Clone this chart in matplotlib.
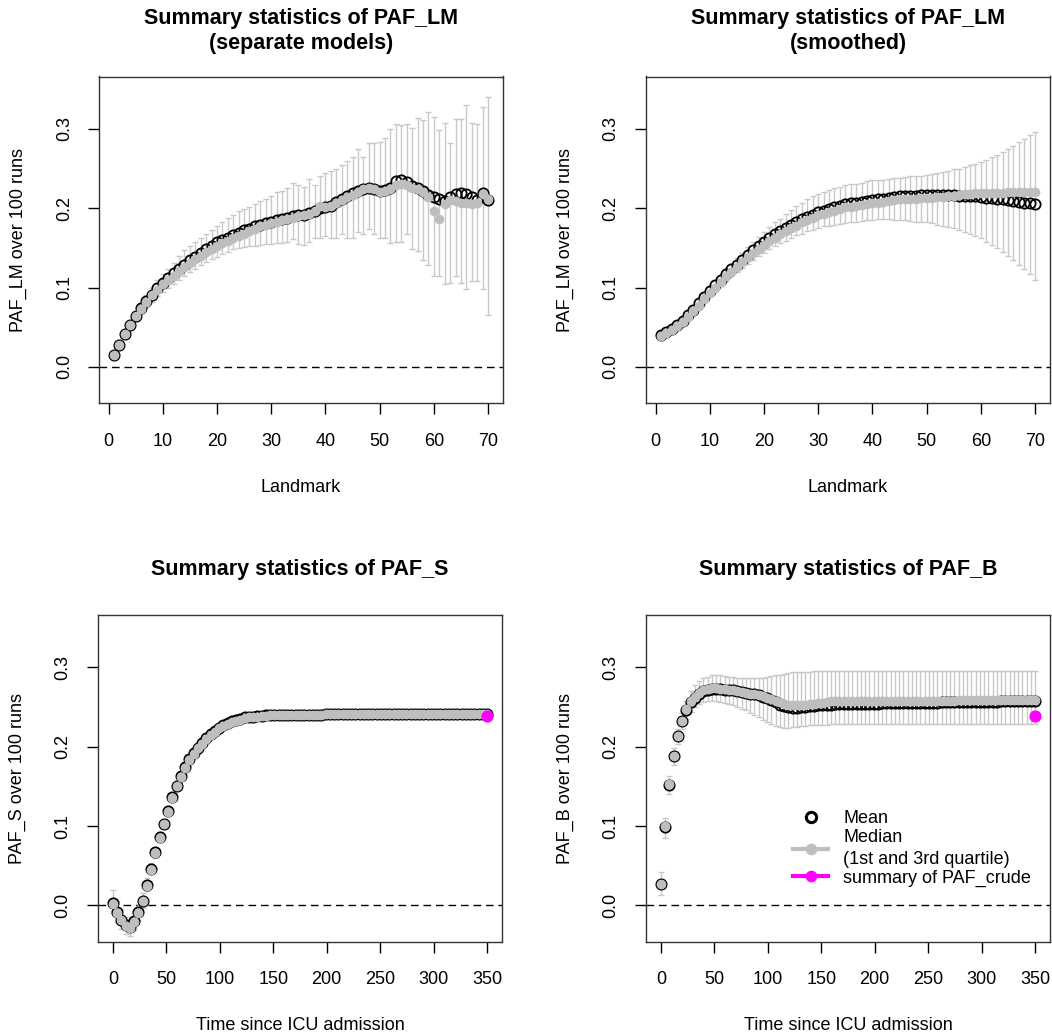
import numpy as np
import matplotlib.pyplot as plt
from matplotlib.lines import Line2D

plt.rcParams['font.family'] = ['Liberation Sans', 'DejaVu Sans']

# x-as boven: landmarks, onder: tijd sinds ICU opname
landmark = np.arange(1, 71)
tijd = np.linspace(0, 350, 89)

# PAF_LM, aparte modellen
lm_sep_mean = [0.015, 0.028, 0.041, 0.053, 0.064, 0.074, 0.083, 0.091, 0.099, 0.106,
               0.112, 0.118, 0.124, 0.129, 0.135, 0.139, 0.144, 0.149, 0.153, 0.157,
               0.160, 0.163, 0.166, 0.169, 0.172, 0.174, 0.177, 0.179, 0.181, 0.183,
               0.185, 0.187, 0.188, 0.190, 0.191, 0.192, 0.194, 0.196, 0.200, 0.201,
               0.203, 0.208, 0.212, 0.216, 0.219, 0.222, 0.224, 0.225, 0.224, 0.222,
               0.223, 0.226, 0.234, 0.236, 0.233, 0.228, 0.226, 0.222, 0.217, 0.214,
               0.211, 0.209, 0.214, 0.218, 0.219, 0.218, 0.214, 0.210, 0.219, 0.210]
lm_sep_median = [0.015, 0.028, 0.041, 0.053, 0.064, 0.073, 0.082, 0.090, 0.097, 0.104,
                 0.110, 0.115, 0.121, 0.126, 0.131, 0.136, 0.140, 0.145, 0.149, 0.153,
                 0.156, 0.159, 0.162, 0.165, 0.168, 0.171, 0.174, 0.177, 0.179, 0.181,
                 0.183, 0.185, 0.187, 0.188, 0.190, 0.191, 0.193, 0.197, 0.203, 0.201,
                 0.203, 0.206, 0.210, 0.214, 0.217, 0.221, 0.224, 0.226, 0.224, 0.221,
                 0.222, 0.224, 0.229, 0.231, 0.229, 0.225, 0.224, 0.221, 0.214, 0.197,
                 0.187, 0.205, 0.210, 0.209, 0.207, 0.206, 0.205, 0.206, 0.218, 0.212]
lm_sep_q3 = [0.018, 0.031, 0.045, 0.057, 0.069, 0.080, 0.090, 0.100, 0.109, 0.117,
             0.124, 0.131, 0.140, 0.147, 0.153, 0.158, 0.163, 0.168, 0.173, 0.178,
             0.183, 0.188, 0.192, 0.196, 0.199, 0.202, 0.205, 0.209, 0.211, 0.216,
             0.220, 0.222, 0.226, 0.232, 0.229, 0.227, 0.237, 0.229, 0.240, 0.244,
             0.247, 0.250, 0.254, 0.259, 0.265, 0.274, 0.265, 0.282, 0.282, 0.284,
             0.288, 0.300, 0.306, 0.305, 0.306, 0.301, 0.314, 0.311, 0.321, 0.315,
             0.299, 0.308, 0.282, 0.312, 0.312, 0.330, 0.307, 0.306, 0.327, 0.340]
lm_sep_q1 = [0.011, 0.024, 0.036, 0.048, 0.058, 0.067, 0.075, 0.082, 0.089, 0.095,
             0.100, 0.105, 0.110, 0.115, 0.119, 0.124, 0.128, 0.132, 0.136, 0.139,
             0.142, 0.145, 0.148, 0.150, 0.151, 0.152, 0.153, 0.154, 0.155, 0.155,
             0.156, 0.156, 0.157, 0.161, 0.155, 0.154, 0.157, 0.163, 0.162, 0.165,
             0.162, 0.162, 0.167, 0.162, 0.162, 0.170, 0.168, 0.174, 0.168, 0.163,
             0.162, 0.156, 0.157, 0.157, 0.168, 0.148, 0.146, 0.135, 0.129, 0.114,
             0.114, 0.104, 0.106, 0.114, 0.106, 0.098, 0.108, 0.108, 0.098, 0.066]

# PAF_LM, gladgestreken
lm_smo_mean = [0.040, 0.044, 0.048, 0.053, 0.058, 0.065, 0.072, 0.080, 0.088, 0.096,
               0.103, 0.110, 0.117, 0.123, 0.129, 0.135, 0.141, 0.147, 0.153, 0.158,
               0.163, 0.167, 0.171, 0.175, 0.179, 0.182, 0.186, 0.189, 0.192, 0.195,
               0.197, 0.199, 0.201, 0.203, 0.205, 0.206, 0.207, 0.208, 0.209, 0.210,
               0.211, 0.212, 0.213, 0.214, 0.215, 0.215, 0.216, 0.216, 0.217, 0.217,
               0.217, 0.217, 0.217, 0.217, 0.217, 0.216, 0.216, 0.215, 0.215, 0.214,
               0.213, 0.213, 0.212, 0.211, 0.210, 0.209, 0.208, 0.207, 0.206, 0.205]
lm_smo_median = [0.039, 0.043, 0.047, 0.051, 0.056, 0.063, 0.070, 0.077, 0.085, 0.093,
                 0.100, 0.107, 0.114, 0.120, 0.126, 0.132, 0.138, 0.144, 0.149, 0.154,
                 0.159, 0.163, 0.167, 0.171, 0.175, 0.178, 0.182, 0.185, 0.188, 0.191,
                 0.193, 0.195, 0.197, 0.199, 0.201, 0.202, 0.203, 0.204, 0.205, 0.206,
                 0.207, 0.208, 0.209, 0.210, 0.211, 0.211, 0.212, 0.212, 0.213, 0.213,
                 0.213, 0.214, 0.214, 0.215, 0.216, 0.217, 0.218, 0.218, 0.219, 0.219,
                 0.219, 0.219, 0.219, 0.219, 0.220, 0.220, 0.220, 0.220, 0.220, 0.220]
lm_smo_q3 = [0.042, 0.046, 0.051, 0.056, 0.061, 0.068, 0.076, 0.084, 0.092, 0.101,
             0.108, 0.116, 0.123, 0.130, 0.137, 0.144, 0.151, 0.158, 0.164, 0.170,
             0.176, 0.182, 0.187, 0.193, 0.198, 0.203, 0.207, 0.211, 0.215, 0.218,
             0.221, 0.223, 0.225, 0.227, 0.229, 0.230, 0.231, 0.232, 0.234, 0.235,
             0.236, 0.236, 0.237, 0.238, 0.238, 0.239, 0.240, 0.240, 0.241, 0.242,
             0.243, 0.244, 0.246, 0.247, 0.249, 0.250, 0.252, 0.254, 0.256, 0.258,
             0.261, 0.264, 0.267, 0.271, 0.275, 0.279, 0.283, 0.287, 0.292, 0.296]
lm_smo_q1 = [0.038, 0.042, 0.046, 0.050, 0.055, 0.061, 0.068, 0.075, 0.082, 0.089,
             0.096, 0.102, 0.108, 0.114, 0.120, 0.125, 0.130, 0.135, 0.140, 0.144,
             0.148, 0.152, 0.156, 0.159, 0.163, 0.166, 0.168, 0.171, 0.173, 0.175,
             0.177, 0.178, 0.179, 0.180, 0.181, 0.182, 0.183, 0.184, 0.185, 0.185,
             0.186, 0.186, 0.186, 0.185, 0.185, 0.185, 0.184, 0.183, 0.183, 0.182,
             0.181, 0.179, 0.178, 0.176, 0.175, 0.173, 0.170, 0.168, 0.165, 0.162,
             0.158, 0.154, 0.150, 0.145, 0.140, 0.135, 0.129, 0.123, 0.117, 0.110]

# PAF_S
s_mean = [0.003, -0.008, -0.018, -0.025, -0.027, -0.020, -0.008, 0.006, 0.026, 0.046,
          0.067, 0.086, 0.103, 0.119, 0.136, 0.151, 0.163, 0.174, 0.184, 0.192,
          0.199, 0.205, 0.211, 0.216, 0.220, 0.224, 0.227, 0.230, 0.232, 0.234,
          0.235, 0.237, 0.238, 0.238, 0.239, 0.239, 0.240, 0.240, 0.240, 0.240,
          0.240, 0.240, 0.240, 0.240, 0.240, 0.240, 0.240, 0.240, 0.240, 0.240,
          0.241, 0.241, 0.241, 0.241, 0.241, 0.241, 0.241, 0.241, 0.241, 0.241,
          0.241, 0.241, 0.241, 0.241, 0.241, 0.241, 0.241, 0.241, 0.241, 0.241,
          0.241, 0.241, 0.241, 0.241, 0.241, 0.241, 0.241, 0.241, 0.241, 0.241,
          0.241, 0.241, 0.241, 0.241, 0.241, 0.241, 0.241, 0.241, 0.241]
s_median = [0.002, -0.009, -0.019, -0.026, -0.028, -0.021, -0.009, 0.005, 0.025, 0.045,
            0.066, 0.085, 0.102, 0.118, 0.135, 0.150, 0.162, 0.173, 0.183, 0.191,
            0.198, 0.204, 0.210, 0.215, 0.219, 0.223, 0.226, 0.229, 0.231, 0.233,
            0.234, 0.236, 0.237, 0.238, 0.238, 0.239, 0.239, 0.240, 0.240, 0.240,
            0.240, 0.240, 0.240, 0.240, 0.240, 0.240, 0.240, 0.240, 0.240, 0.240,
            0.241, 0.241, 0.241, 0.241, 0.241, 0.241, 0.241, 0.241, 0.241, 0.241,
            0.241, 0.241, 0.241, 0.241, 0.241, 0.241, 0.241, 0.241, 0.241, 0.241,
            0.241, 0.241, 0.241, 0.241, 0.241, 0.241, 0.241, 0.241, 0.241, 0.241,
            0.241, 0.241, 0.241, 0.241, 0.241, 0.241, 0.241, 0.241, 0.241]
s_q3 = [0.019, 0.006, -0.005, -0.014, -0.017, -0.010, 0.002, 0.015, 0.034, 0.053,
        0.073, 0.092, 0.109, 0.125, 0.141, 0.156, 0.168, 0.179, 0.188, 0.196,
        0.203, 0.209, 0.214, 0.219, 0.223, 0.227, 0.230, 0.233, 0.235, 0.237,
        0.238, 0.240, 0.241, 0.241, 0.242, 0.242, 0.243, 0.243, 0.243, 0.243,
        0.243, 0.243, 0.243, 0.243, 0.243, 0.243, 0.243, 0.243, 0.243, 0.243,
        0.244, 0.244, 0.244, 0.244, 0.244, 0.244, 0.244, 0.244, 0.244, 0.244,
        0.244, 0.244, 0.244, 0.244, 0.244, 0.244, 0.244, 0.244, 0.244, 0.244,
        0.244, 0.244, 0.244, 0.244, 0.244, 0.244, 0.244, 0.244, 0.244, 0.244,
        0.244, 0.244, 0.244, 0.244, 0.244, 0.244, 0.244, 0.244, 0.244]
s_q1 = [-0.010, -0.021, -0.030, -0.036, -0.038, -0.031, -0.018, -0.003, 0.018, 0.039,
        0.060, 0.080, 0.097, 0.113, 0.130, 0.146, 0.158, 0.169, 0.179, 0.187,
        0.195, 0.201, 0.207, 0.212, 0.216, 0.220, 0.224, 0.227, 0.229, 0.231,
        0.232, 0.234, 0.235, 0.235, 0.236, 0.236, 0.237, 0.237, 0.237, 0.237,
        0.237, 0.237, 0.237, 0.237, 0.237, 0.237, 0.237, 0.237, 0.237, 0.237,
        0.238, 0.238, 0.238, 0.238, 0.238, 0.238, 0.238, 0.238, 0.238, 0.238,
        0.238, 0.238, 0.238, 0.238, 0.238, 0.238, 0.238, 0.238, 0.238, 0.238,
        0.238, 0.238, 0.238, 0.238, 0.238, 0.238, 0.238, 0.238, 0.238, 0.238,
        0.238, 0.238, 0.238, 0.238, 0.238, 0.238, 0.238, 0.238, 0.238]

# PAF_B
b_mean = [0.027, 0.099, 0.152, 0.188, 0.213, 0.232, 0.246, 0.256, 0.262, 0.267,
          0.270, 0.272, 0.273, 0.273, 0.273, 0.272, 0.272, 0.271, 0.270, 0.269,
          0.268, 0.267, 0.266, 0.265, 0.263, 0.261, 0.259, 0.256, 0.253, 0.251,
          0.250, 0.249, 0.249, 0.250, 0.250, 0.251, 0.251, 0.252, 0.252, 0.253,
          0.253, 0.254, 0.254, 0.254, 0.254, 0.254, 0.254, 0.254, 0.254, 0.254,
          0.254, 0.254, 0.255, 0.255, 0.255, 0.255, 0.255, 0.255, 0.255, 0.255,
          0.255, 0.255, 0.255, 0.255, 0.255, 0.255, 0.256, 0.256, 0.256, 0.256,
          0.256, 0.256, 0.256, 0.256, 0.256, 0.256, 0.256, 0.256, 0.256, 0.256,
          0.257, 0.257, 0.257, 0.257, 0.257, 0.257, 0.257, 0.257, 0.258]
b_median = [0.027, 0.100, 0.153, 0.188, 0.214, 0.233, 0.247, 0.257, 0.263, 0.268,
            0.271, 0.273, 0.274, 0.274, 0.273, 0.273, 0.272, 0.271, 0.270, 0.269,
            0.268, 0.267, 0.266, 0.265, 0.264, 0.262, 0.260, 0.258, 0.256, 0.254,
            0.253, 0.252, 0.252, 0.253, 0.253, 0.254, 0.254, 0.255, 0.255, 0.256,
            0.257, 0.257, 0.257, 0.257, 0.257, 0.257, 0.257, 0.257, 0.257, 0.257,
            0.258, 0.258, 0.258, 0.258, 0.258, 0.258, 0.258, 0.258, 0.258, 0.258,
            0.258, 0.258, 0.258, 0.258, 0.258, 0.258, 0.258, 0.258, 0.258, 0.258,
            0.259, 0.259, 0.259, 0.259, 0.259, 0.259, 0.259, 0.259, 0.259, 0.259,
            0.259, 0.259, 0.259, 0.259, 0.259, 0.259, 0.259, 0.259, 0.259]
b_q3 = [0.042, 0.110, 0.163, 0.198, 0.222, 0.243, 0.258, 0.270, 0.278, 0.283,
        0.286, 0.288, 0.290, 0.291, 0.290, 0.289, 0.288, 0.288, 0.287, 0.287,
        0.286, 0.286, 0.286, 0.286, 0.287, 0.288, 0.289, 0.290, 0.291, 0.292,
        0.293, 0.294, 0.294, 0.294, 0.294, 0.294, 0.295, 0.295, 0.295, 0.295,
        0.295, 0.295, 0.295, 0.295, 0.295, 0.295, 0.295, 0.295, 0.295, 0.295,
        0.295, 0.295, 0.295, 0.295, 0.295, 0.295, 0.295, 0.295, 0.295, 0.295,
        0.295, 0.295, 0.295, 0.295, 0.295, 0.295, 0.295, 0.295, 0.295, 0.295,
        0.295, 0.295, 0.295, 0.295, 0.295, 0.295, 0.295, 0.295, 0.295, 0.295,
        0.295, 0.295, 0.295, 0.295, 0.295, 0.295, 0.295, 0.295, 0.295]
b_q1 = [0.013, 0.085, 0.140, 0.177, 0.203, 0.222, 0.235, 0.244, 0.250, 0.254,
        0.256, 0.257, 0.257, 0.257, 0.256, 0.255, 0.254, 0.252, 0.250, 0.248,
        0.246, 0.243, 0.240, 0.237, 0.234, 0.231, 0.228, 0.226, 0.225, 0.224,
        0.224, 0.225, 0.225, 0.226, 0.226, 0.227, 0.227, 0.227, 0.227, 0.227,
        0.228, 0.228, 0.228, 0.228, 0.228, 0.228, 0.228, 0.228, 0.228, 0.228,
        0.228, 0.228, 0.228, 0.228, 0.228, 0.228, 0.228, 0.228, 0.228, 0.228,
        0.228, 0.228, 0.228, 0.228, 0.228, 0.228, 0.228, 0.228, 0.228, 0.228,
        0.228, 0.228, 0.228, 0.228, 0.228, 0.228, 0.228, 0.228, 0.228, 0.228,
        0.228, 0.228, 0.228, 0.228, 0.228, 0.228, 0.228, 0.228, 0.228]

# PAF_crude (samenvatting bij t = 350)
crude_t = 350
crude_mid = 0.239
crude_q1 = 0.234
crude_q3 = 0.245

grijs = '#bebebe'
balk = '#c8c8c8'
magenta = '#ff00ff'
W, H = 1052, 1035


def panel(ax, x, mean, median, q1, q3, xlim, xticks, xlabel, ylabel, title):
    ax.axhline(0, color='black', lw=1.0, ls=(0, (5.5, 3.5)), zorder=1)
    # kwartielen als foutbalken met kapjes
    ax.vlines(x, q1, q3, color=balk, lw=1.0, zorder=2)
    ax.plot(x, q1, ls='none', marker='_', ms=4.8, mew=1.0, color=balk, zorder=2)
    ax.plot(x, q3, ls='none', marker='_', ms=4.8, mew=1.0, color=balk, zorder=2)
    ax.plot(x, mean, ls='none', marker='o', ms=7.4, mfc='none', mec='black',
            mew=1.3, zorder=3)
    ax.plot(x, median, ls='none', marker='o', ms=7.0, mfc=grijs, mec='none', zorder=4)

    ax.set_xlim(xlim)
    ax.set_ylim(-0.0455, 0.366)
    ax.set_xticks(xticks)
    ax.set_yticks([0, 0.1, 0.2, 0.3])
    ax.set_yticklabels(['0.0', '0.1', '0.2', '0.3'], rotation=90, va='center')
    ax.tick_params(axis='both', direction='out', length=7.9, width=1.0,
                   labelsize=13, color='black')
    ax.tick_params(axis='x', pad=13.5)
    ax.tick_params(axis='y', pad=11.0)
    for s in ax.spines.values():
        s.set_linewidth(1.0)
        s.set_color('#333333')

    ax.text(-80.5 / 404, 0.5, ylabel, rotation=90, transform=ax.transAxes,
            ha='center', va='center', fontsize=13)
    ax.text(0.5, -84 / 326.5, xlabel, transform=ax.transAxes,
            ha='center', va='center', fontsize=13)
    ax.text(0.5, 1 + 45.5 / 326.5, title, transform=ax.transAxes, ha='center',
            va='center', fontsize=15.5, fontweight='bold', linespacing=1.25)


fig = plt.figure(figsize=(W / 100, H / 100), dpi=100)
bw, bh = 404 / W, 326.5 / H
ax1 = fig.add_axes([99 / W, 1 - 403 / H, bw, bh])
ax2 = fig.add_axes([646 / W, 1 - 403 / H, bw, bh])
ax3 = fig.add_axes([98 / W, 1 - 941.5 / H, bw, bh])
ax4 = fig.add_axes([646 / W, 1 - 941.5 / H, bw, bh])

panel(ax1, landmark, lm_sep_mean, lm_sep_median, lm_sep_q1, lm_sep_q3,
      (-1.76, 72.76), range(0, 71, 10), 'Landmark', 'PAF_LM over 100 runs',
      'Summary statistics of PAF_LM\n(separate models)')
panel(ax2, landmark, lm_smo_mean, lm_smo_median, lm_smo_q1, lm_smo_q3,
      (-1.76, 72.76), range(0, 71, 10), 'Landmark', 'PAF_LM over 100 runs',
      'Summary statistics of PAF_LM\n(smoothed)')
panel(ax3, tijd, s_mean, s_median, s_q1, s_q3,
      (-14, 364), range(0, 351, 50), 'Time since ICU admission',
      'PAF_S over 100 runs', 'Summary statistics of PAF_S')
panel(ax4, tijd, b_mean, b_median, b_q1, b_q3,
      (-14, 364), range(0, 351, 50), 'Time since ICU admission',
      'PAF_B over 100 runs', 'Summary statistics of PAF_B')

# PAF_crude in de onderste panelen
for ax in (ax3, ax4):
    ax.vlines(crude_t, crude_q1, crude_q3, color=magenta, lw=1.5, zorder=5)
    ax.plot([crude_t], [crude_mid], ls='none', marker='o', ms=7.8,
            mfc=magenta, mec=magenta, zorder=6)

handles = [
    Line2D([], [], ls='none', marker='o', ms=7.4, mfc='none', mec='black', mew=2.2),
    Line2D([], [], color=grijs, lw=3, marker='o', ms=7.4, mfc=grijs, mec=grijs),
    Line2D([], [], color=magenta, lw=3, marker='o', ms=7.4, mfc=magenta, mec=magenta),
]
leg = ax4.legend(handles, ['Mean', 'Median\n(1st and 3rd quartile)', 'summary of PAF_crude'],
                 loc='upper left', bbox_to_anchor=(0.364, 0.403), frameon=False,
                 fontsize=13, handlelength=1.94, handletextpad=0.83, labelspacing=0.1,
                 borderpad=0, borderaxespad=0)
for t in leg.get_texts():
    t.set_linespacing(1.4)

fig.savefig('out.png', dpi=100)
